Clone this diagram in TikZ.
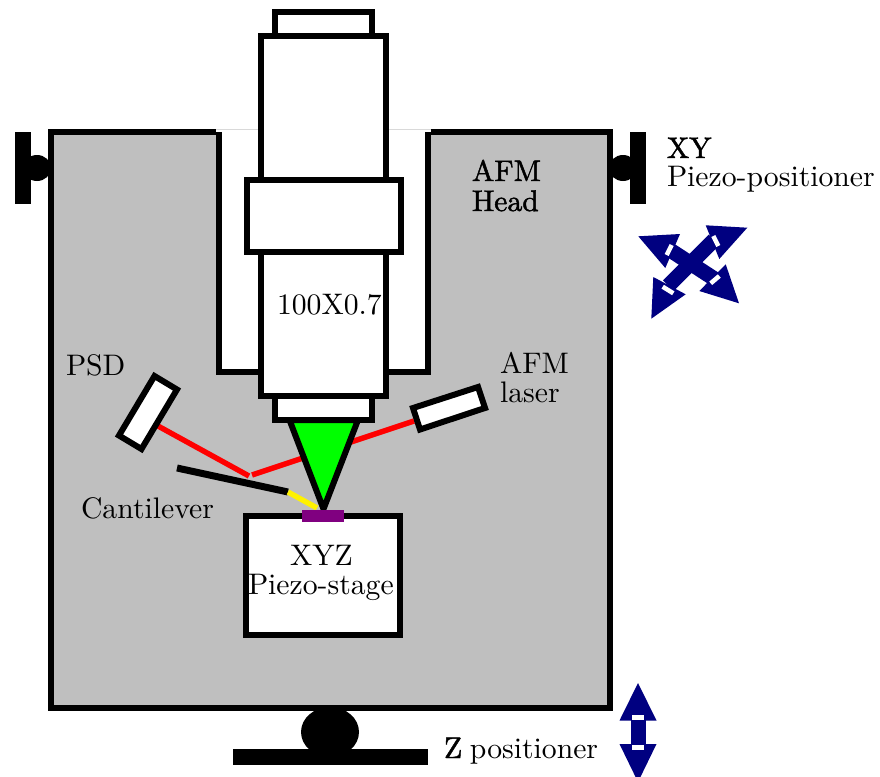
\documentclass[tikz,border=0pt]{standalone}
\usepackage{fontspec}
\setmainfont{Latin Modern Roman}
\definecolor{headgray}{RGB}{191,191,191}
\definecolor{navyarrow}{RGB}{0,0,128}
\definecolor{tipgreen}{RGB}{0,255,0}
\definecolor{samplepurple}{RGB}{128,0,128}
\newcommand{\fakebf}{\addfontfeatures{FakeBold=1.6}}
\tikzset{
  part/.style={draw=black,line width=6pt,fill=white,miter limit=10},
  beam/.style={draw=red,line width=5.4pt},
  lab/.style={scale=2.97,anchor=base west,inner sep=0pt,outer sep=0pt,text=black},
  solidblack/.style={fill=black,draw=none},
  navyhead/.style={fill=navyarrow,draw=none},
  navyshaft/.style={draw=navyarrow,line width=15pt},
  gap/.style={draw=white,line width=4.5pt}
}
\begin{document}
\begin{tikzpicture}[x=1pt,y=-1pt]
\useasboundingbox (0,0) rectangle (880,776);
\clip (0,0) rectangle (880,776);
% faint seam across the opening
\draw[black!15,line width=0.8pt] (215,129.5) -- (431,129.5);
% AFM head
\path[fill=headgray] (50.5,132) -- (218.5,132) -- (218.5,371.5) -- (428,371.5) -- (428,132) -- (610,132) -- (610,708) -- (50.5,708) -- cycle;
\draw[line width=6pt,line join=miter] (215.5,132) -- (50.5,132) -- (50.5,708) -- (610,708) -- (610,132) -- (431,132);
\draw[line width=6pt] (218.5,132) -- (218.5,371.5) -- (428,371.5) -- (428,132);
% side positioners
\fill[solidblack] (14.5,132) rectangle (30.5,204);
\fill[solidblack] (37,168) ellipse (14 and 13);
\fill[solidblack] (630,132) rectangle (646,204);
\fill[solidblack] (623,168) ellipse (14 and 13);
% bottom positioner
\fill[solidblack] (330,732) ellipse (29 and 25);
\fill[solidblack] (232.5,748.5) rectangle (428,764.5);
% objective
\draw[part] (275,12) rectangle (372,36);
\draw[part] (260.5,36) rectangle (386,396);
\draw[part] (246.5,180) rectangle (400.5,252);
% beams
\coordinate (laserout) at (414,421);
\coordinate (mirror) at (252,475);
\coordinate (mirrorb) at (249,476);
\coordinate (psdin) at (158,426);
\draw[beam] (laserout) -- (mirror);
\draw[beam] (mirrorb) -- (psdin);
% tip
\draw[part,fill=tipgreen] (289.5,420) -- (358,420) -- (323.5,509) -- cycle;
\draw[part] (275,396) rectangle (372,420);
% PSD, laser
\draw[part] (154.5,376) -- (177,389.5) -- (141.5,449) -- (119,435.5) -- cycle;
\draw[part] (413,408) -- (478,387) -- (485,408) -- (420,429.5) -- cycle;
% stage
\draw[part] (246,516) rectangle (400,635);
% cantilever
\coordinate (canta) at (177,468);
\coordinate (cantb) at (288,492);
\coordinate (cantc) at (317,508);
\draw[line width=7pt] (canta) -- (cantb);
\draw[yellow,line width=5.4pt] (cantb) -- (cantc);
\fill[samplepurple] (302,510) rectangle (344,522);
% Z arrow
\draw[navyshaft] (638,718) -- (638,748);
\fill[navyhead] (638,683) -- (656.5,720.5) -- (619.5,720.5) -- cycle;
\fill[navyhead] (638,782) -- (656.5,744) -- (619.5,744) -- cycle;
\draw[white,line width=5pt] (632,717.5) -- (644,717.5);
\draw[white,line width=5pt] (632,747.5) -- (644,747.5);
% XY arrows
\draw[navyshaft] (668.3,285.7) -- (714,240);
\draw[navyshaft] (670,250) -- (715,279.3);
\fill[navyhead] (747.3,227.7) -- (705.7,225.3) -- (719.3,259) -- cycle;
\fill[navyhead] (638.3,236.3) -- (680,234) -- (665.3,268) -- cycle;
\fill[navyhead] (651.3,318.7) -- (653.3,277) -- (685.7,294.3) -- cycle;
\fill[navyhead] (739,303.3) -- (725.7,264.3) -- (699.3,291) -- cycle;
\draw[gap] (662.7,286.7) -- (673.3,293.3);
\draw[gap] (713.3,236) -- (718.3,246);
\draw[gap] (671.7,245) -- (666.7,255);
\draw[gap] (710.7,283.3) -- (719.3,276);
% labels
\node[lab] (xy) at (667,158) {\fakebf XY};
\node[lab] (piezo) at (667,186) {Piezo-positioner};
\node[lab] (afmh) at (472,181) {\fakebf AFM};
\node[lab] (head) at (472,211) {\fakebf Head};
\node[lab] (obj) at (277,314) {100X0.7};
\node[lab] (psd) at (66,375) {PSD};
\node[lab] (afml) at (500,373) {AFM};
\node[lab] (laser) at (500,402) {laser};
\node[lab] (cant) at (81,518) {Cantilever};
\node[lab] (xyz) at (290,565) {XYZ};
\node[lab] (stage) at (248,594) {Piezo-stage};
\node[lab] (zpos) at (444,758) {{\fakebf Z}\hspace{-0.7pt} positioner};
\end{tikzpicture}
\end{document}
